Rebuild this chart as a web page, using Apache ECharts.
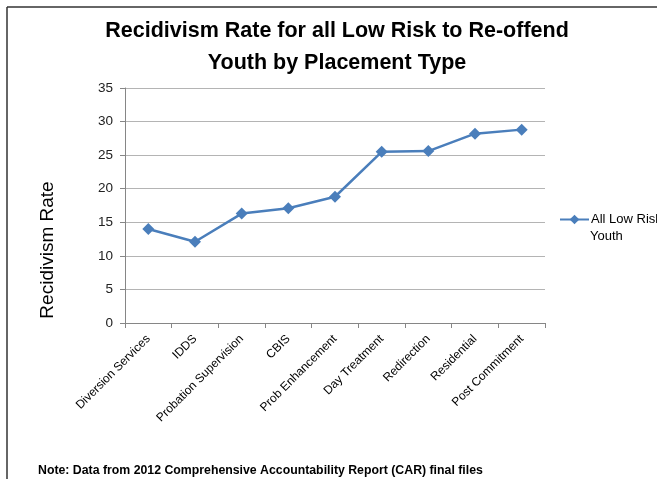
<!DOCTYPE html>
<html><head><meta charset="utf-8">
<script src="https://cdn.jsdelivr.net/npm/echarts@6/dist/echarts.min.js"></script>
<style>html,body{margin:0;padding:0;background:#fff}#c{width:657px;height:479px}</style>
</head><body><div id="c"></div>
<script>
const categories = ["Diversion Services","IDDS","Probation Supervision","CBIS","Prob Enhancement","Day Treatment","Redirection","Residential","Post Commitment"];
const rateValues = [14.0, 12.1, 16.3, 17.1, 18.8, 25.5, 25.6, 28.2, 28.8];
const seriesName = "All Low Risk Youth";
const legendLines = ["All Low Risk", "Youth"];
const titleText = "Recidivism Rate for all Low Risk to Re-offend\nYouth by Placement Type";
const noteText = "Note: Data from 2012 Comprehensive Accountability Report (CAR) final files";
const yAxisTitle = "Recidivism Rate";

const chart = echarts.init(document.getElementById('c'), null, {renderer:'canvas'});
const FONT = "'Liberation Sans', Arial, sans-serif";
chart.setOption({
  animation:false,
  backgroundColor:'#fff',
  textStyle:{fontFamily:FONT},
  title:{
    text:titleText, left:337, top:15, textAlign:'center', padding:0,
    textStyle:{fontFamily:FONT, fontSize:21.5, fontWeight:'bold', color:'#000', lineHeight:32}
  },
  legend:{
    data:[seriesName], orient:'vertical', left:559, top:213, padding:0,
    itemWidth:29, itemHeight:12, itemGap:0,
    formatter:()=> legendLines[0],
    textStyle:{fontFamily:FONT, fontSize:13, color:'#000', padding:[0,0,0,-3]}
  },
  grid:{left:125, right:112, top:88, bottom:156, containLabel:false},
  xAxis:{
    type:'category', data:categories, boundaryGap:true,
    axisLine:{lineStyle:{color:'#868686', width:1}},
    axisTick:{show:true, length:5, alignWithLabel:false, lineStyle:{color:'#868686'}},
    axisLabel:{rotate:45, fontSize:12, color:'#000', margin:14, interval:0}
  },
  yAxis:{
    type:'value', min:0, max:35, interval:5,
    axisLine:{show:true, lineStyle:{color:'#868686'}},
    axisTick:{show:true, length:5, lineStyle:{color:'#868686'}},
    axisLabel:{fontSize:13.5, color:'#222', margin:12},
    splitLine:{lineStyle:{color:'#b4b4b4', width:1}}
  },
  series:[{
    name:seriesName, type:'line', data:rateValues,
    symbol:'diamond', symbolSize:12,
    lineStyle:{color:'#4a7ebb', width:2.5},
    itemStyle:{color:'#4a7ebb'}
  }],
  graphic:[
    {type:'line', shape:{x1:7, y1:7, x2:657, y2:7}, style:{stroke:'#333', lineWidth:1.5}},
    {type:'line', shape:{x1:7, y1:7, x2:7, y2:479}, style:{stroke:'#333', lineWidth:1.5}},
    {type:'text', x:48, y:250, rotation:Math.PI/2,
      style:{text:yAxisTitle, font:"19px "+FONT, fill:'#000', align:'center', verticalAlign:'middle'}},
    {type:'text', x:590, y:236,
      style:{text:legendLines[1], font:"13px "+FONT, fill:'#000', align:'left', verticalAlign:'middle'}},
    {type:'text', x:38, y:471,
      style:{text:noteText, font:"bold 12.3px "+FONT, fill:'#000', align:'left', verticalAlign:'middle'}}
  ]
});
</script></body></html>
